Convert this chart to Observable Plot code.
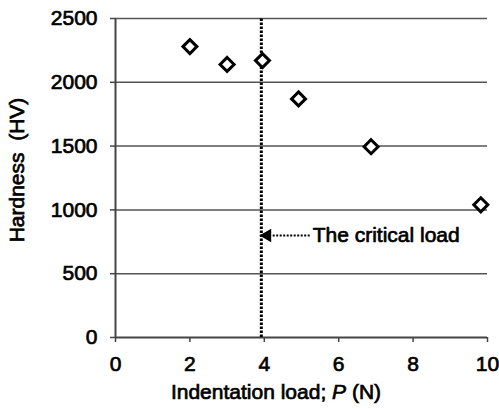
<!DOCTYPE html>
<html>
<head>
<meta charset="utf-8">
<script src="https://cdn.jsdelivr.net/npm/d3@7"></script>
<script src="https://cdn.jsdelivr.net/npm/@observablehq/plot@0.6"></script>
<style>
  html, body { margin: 0; padding: 0; background: #fff; }
  svg { font-family: "Liberation Sans", Arial, sans-serif; }
</style>
</head>
<body>
<div id="chart"></div>
<script>
// Data
const loads = [2, 3, 3.95, 4.92, 6.87, 9.82];
const hardness = [2280, 2140, 2170, 1870, 1495, 1040];
const xTicks = [0, 2, 4, 6, 8, 10];
const yTicks = [0, 500, 1000, 1500, 2000, 2500];
const criticalLoad = [3.92];
const annotation = [{x1: 5.22, x2: 4.2, head: 4.08, y: 800, label: "The critical load", tx: 5.3}];
const xLabelParts = ["Indentation load; ", "P", " (N)"];
const yLabel = "Hardness  (HV)";

const points = loads.map((x, i) => ({x, y: hardness[i]}));
const FS = 21;
const SW = 0.7;
const textStroke = {stroke: "#000", strokeWidth: SW};

const plot = Plot.plot({
  width: 499,
  height: 409,
  marginLeft: 115,
  marginRight: 12,
  marginTop: 18,
  marginBottom: 72,
  style: {fontFamily: "Liberation Sans, Arial, sans-serif", fontSize: FS + "px", color: "#000", background: "#fff"},
  x: {domain: [0, 10], label: null},
  y: {domain: [0, 2500], label: null},
  marks: [
    Plot.ruleY(yTicks.filter(d => d > 0), {stroke: "#555", strokeWidth: 1.5}),
    Plot.axisY({ticks: yTicks, tickFormat: d3.format("d"), tickSize: 5, tickPadding: 13, stroke: "#444", strokeWidth: 1.5, fontSize: FS, fill: "#000", label: null}),
    Plot.axisX({ticks: xTicks, tickFormat: d3.format("d"), tickSize: 5, tickPadding: 14, stroke: "#444", strokeWidth: 1.5, fontSize: FS, fill: "#000", label: null}),
    Plot.ruleX([0], {stroke: "#444", strokeWidth: 2}),
    Plot.ruleY([0], {stroke: "#444", strokeWidth: 2}),
    Plot.ruleX(criticalLoad, {y1: 0, y2: 2500, stroke: "#000", strokeWidth: 3, strokeDasharray: "2.5,1.5"}),
    Plot.link(annotation, {x1: "x1", x2: "x2", y1: "y", y2: "y", stroke: "#000", strokeWidth: 2, strokeDasharray: "2,1.5"}),
    Plot.dot(annotation, {x: "head", y: "y", symbol: "triangle", rotate: -90, r: 5, fill: "#000", stroke: "none"}),
    Plot.text(annotation, {x: "tx", y: "y", text: "label", textAnchor: "start", fontSize: FS, fill: "#000", ...textStroke}),
    Plot.dot(points, {x: "x", y: "y", symbol: "diamond2", r: 6.3, stroke: "#000", strokeWidth: 3, fill: "#fff"})
  ]
});

document.getElementById("chart").appendChild(plot);

const svg = d3.select(plot);
// thicken tick labels slightly to match the heavy look of the reference
svg.selectAll("g[aria-label='y-axis tick label'], g[aria-label='x-axis tick label']")
  .attr("stroke", "#000").attr("stroke-width", SW);

const xl = svg.append("text")
  .attr("x", 276).attr("y", 399)
  .attr("text-anchor", "middle")
  .attr("font-size", FS)
  .attr("fill", "#000")
  .attr("stroke", "#000").attr("stroke-width", SW);
xl.append("tspan").text(xLabelParts[0]);
xl.append("tspan").attr("font-style", "italic").text(xLabelParts[1]);
xl.append("tspan").text(xLabelParts[2]);

svg.append("text")
  .attr("transform", "translate(24,170) rotate(-90)")
  .attr("text-anchor", "middle")
  .attr("font-size", FS)
  .attr("fill", "#000")
  .attr("stroke", "#000").attr("stroke-width", SW)
  .style("white-space", "pre")
  .text(yLabel);
</script>
</body>
</html>
